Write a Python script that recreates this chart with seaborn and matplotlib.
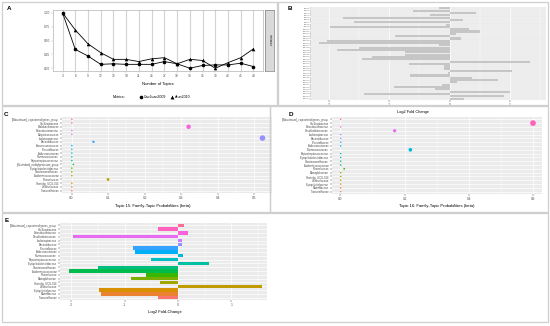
import matplotlib
matplotlib.use("Agg")
import numpy as np
import pandas as pd
import matplotlib.pyplot as plt
import seaborn as sns
from matplotlib.patches import Rectangle
from matplotlib.lines import Line2D

# ---------------- data ----------------
n_topics = [3, 6, 9, 12, 15, 18, 21, 24, 27, 30, 33, 36, 39, 42, 45, 48]
caojuan2009 = [1.00, 0.34, 0.22, 0.07, 0.08, 0.07, 0.07, 0.07, 0.12, 0.08, 0.00, 0.05, 0.06, 0.06, 0.09, 0.03]
arun2010 = [1.00, 0.69, 0.44, 0.28, 0.16, 0.16, 0.12, 0.17, 0.19, 0.08, 0.16, 0.14, 0.00, 0.10, 0.19, 0.35]

topic_fc = [-0.18, -0.61, 0.44, -0.33, -1.77, 0.23, -1.58, -0.06, -1.99, 0.33,
            0.51, 0.11, -0.90, 0.19, -2.04, -2.16, -0.17, -1.50, -1.87, -0.74,
            -0.74, -1.29, -1.46, 1.34, -0.67, -0.10, -0.10, 1.04, -0.03, -0.66,
            0.37, 0.81, 0.13, -0.13, -0.92, -0.24, 1.00, -1.42, 0.91, 0.24]
topic_names = ["Topic %d" % (i + 1) for i in range(len(topic_fc))]

families_c = ["[Eubacterium]_coprostanoligenes_group", "Oscillospiraceae", "Bifidobacteriaceae",
              "Enterobacteriaceae", "Butyricicoccaceae", "Lachnospiraceae", "Bacteroidaceae",
              "Anaerovoracaceae", "Prevotellaceae", "Akkermansiaceae", "Ruminococcaceae",
              "Peptostreptococcaceae", "[Clostridium]_methylpentosum_group",
              "Erysipelatoclostridiaceae", "Christensenellaceae", "Acidaminococcaceae",
              "Rikenellaceae", "Clostridia_UCG-014", "Veillonellaceae", "Tannerellaceae"]
beta_c = [0.001, 0.001, 0.32, 0.001, 0.001, 0.522, 0.06, 0.001, 0.001, 0.001,
          0.001, 0.001, 0.005, 0.001, 0.001, 0.001, 0.10, 0.001, 0.001, 0.001]

families_d = ["[Eubacterium]_coprostanoligenes_group", "Oscillospiraceae", "Enterobacteriaceae",
              "Desulfovibrionaceae", "Lachnospiraceae", "Bacteroidaceae", "Prevotellaceae",
              "Akkermansiaceae", "Ruminococcaceae", "Peptostreptococcaceae",
              "Erysipelatoclostridiaceae", "Christensenellaceae", "Acidaminococcaceae",
              "Rikenellaceae", "Monoglobaceae", "Clostridia_UCG-014", "Veillonellaceae",
              "Erysipelotrichaceae", "Marinifilaceae", "Tannerellaceae"]
beta_d = [0.001, 0.60, 0.001, 0.169, 0.001, 0.001, 0.001, 0.001, 0.218, 0.001,
          0.001, 0.001, 0.001, 0.012, 0.001, 0.001, 0.001, 0.001, 0.001, 0.001]

families_e = families_d
fc_e = [0.11, -0.37, 0.19, -1.97, 0.08, 0.08, -0.85, -0.80, 0.10, -0.51,
        0.59, -1.49, -2.05, -0.59, -0.88, -0.33, 1.58, -1.48, -1.44, -0.37]

# ggplot default hue palette, 20 levels (level 1 = bottom row)
hue20 = ["#F8766D", "#EA8331", "#D89000", "#C09B00", "#A3A500", "#7CAE00", "#39B600",
         "#00BB4E", "#00BF7D", "#00C1A3", "#00BFC4", "#00BAE0", "#00B0F6", "#35A2FF",
         "#9590FF", "#C77CFF", "#E76BF3", "#FA62DB", "#FF62BC", "#FF6C91"]

# ---------------- helpers ----------------
W, H = 550, 326
plt.rcParams['font.family'] = ['Liberation Sans', 'DejaVu Sans']
fig = plt.figure(figsize=(W / 100, H / 100), dpi=100)
fig.patch.set_facecolor('white')


def px_axes(left, top, right, bottom):
    return fig.add_axes([left / W, 1 - bottom / H, (right - left) / W, (bottom - top) / H])


def box(left, top, right, bottom):
    fig.patches.append(Rectangle((left / W, 1 - bottom / H), (right - left) / W, (bottom - top) / H,
                                 transform=fig.transFigure, fill=False, ec='#CFCFCF', lw=0.9))


def gg_gray(ax, fs=1.9):
    ax.set_facecolor('#EBEBEB')
    for s in ax.spines.values():
        s.set_visible(False)
    ax.grid(True, which='major', color='white', lw=0.5)
    ax.grid(True, which='minor', axis='x', color='white', lw=0.25)
    ax.set_axisbelow(True)
    ax.tick_params(axis='both', length=1.2, width=0.3, color='#333333', pad=1,
                   labelsize=fs, labelcolor='#4D4D4D')
    ax.tick_params(axis='x', labelsize=2.3)
    ax.tick_params(which='minor', length=0)
    ax.set_xlabel('')
    ax.set_ylabel('')


def letter(x, y, s):
    fig.text(x / W, 1 - y / H, s, fontsize=4.5, fontweight='bold', ha='left', va='center')


def flabel(x, y, s, fs=3.0):
    fig.text(x / W, 1 - y / H, s, fontsize=fs, ha='center', va='center', color='black')


box(2, 2, 277, 105)
box(278, 2, 548, 105)
box(2, 106, 270, 212)
box(270, 106, 548, 212)
box(2, 213, 548, 322)

# ---------------- A ----------------
dfa = pd.DataFrame({'k': n_topics * 2,
                    'value': caojuan2009 + arun2010,
                    'metric': ['CaoJuan2009'] * len(n_topics) + ['Arun2010'] * len(n_topics)})
axa = px_axes(53, 10, 263, 71)
sns.lineplot(data=dfa, x='k', y='value', style='metric',
             markers={'CaoJuan2009': 'o', 'Arun2010': '^'}, dashes=False,
             color='black', lw=0.6, markersize=2.6, markeredgewidth=0,
             legend=False, ax=axa)
axa.set_xlim(0.75, 50.25)
axa.set_ylim(-0.05, 1.05)
axa.set_xticks(n_topics)
axa.set_yticks([0, 0.25, 0.5, 0.75, 1.0])
axa.set_yticklabels(['0.00', '0.25', '0.50', '0.75', '1.00'])
axa.grid(True, axis='x', color='#D3D3D3', lw=0.8)
axa.grid(False, axis='y')
axa.set_axisbelow(True)
for s in axa.spines.values():
    s.set_color('#B3B3B3')
    s.set_linewidth(0.5)
axa.tick_params(length=1.2, width=0.3, color='#B3B3B3', pad=1, labelsize=2.3, labelcolor='#4D4D4D')
axa.set_xlabel('')
axa.set_ylabel('')

axs = px_axes(265, 10, 274, 71)
axs.set_facecolor('#D9D9D9')
axs.set_xticks([])
axs.set_yticks([])
for s in axs.spines.values():
    s.set_color('#7F7F7F')
    s.set_linewidth(0.5)
axs.text(0.5, 0.5, 'minimize', rotation=-90, ha='center', va='center', fontsize=2.2,
         color='#1A1A1A', transform=axs.transAxes)

flabel(158, 84, 'Number of Topics')
fig.text(113 / W, 1 - 97 / H, 'Metrics:', fontsize=2.6, ha='left', va='center')
handles = [Line2D([], [], ls='', marker='o', color='black', markersize=2.6, mew=0),
           Line2D([], [], ls='', marker='^', color='black', markersize=2.8, mew=0)]
fig.legend(handles, ['CaoJuan2009', 'Arun2010'], ncol=2, frameon=False, fontsize=2.6,
           loc='center left', bbox_to_anchor=(138 / W, 1 - 97 / H),
           handlelength=0.8, handletextpad=0.4, columnspacing=1.2, borderaxespad=0)
letter(7, 8, 'A')

# ---------------- B ----------------
axb = px_axes(311, 7, 546, 100)
sns.barplot(x=topic_fc, y=topic_names, orient='h', color='#C6C6C6', saturation=1,
            width=0.9, ax=axb)
gg_gray(axb, fs=1.45)
axb.set_xlim(-2.3, 1.6)
axb.set_ylim(len(topic_fc) - 0.4, -0.6)
axb.set_xticks([-2, -1, 0, 1])
axb.set_xticklabels(['-2', '-1', '0', '1'])
axb.set_xticks([-1.5, -0.5, 0.5, 1.5], minor=True)
axb.grid(True, axis='y', color='white', lw=0.2)
axb.tick_params(axis='y', length=0.8, pad=0.6)
letter(288, 8, 'B')
flabel(413, 112.5, 'Log2 Fold Change', fs=2.8)

# ---------------- C ----------------
dfc = pd.DataFrame({'family': families_c, 'beta': beta_c})
pal_c = {f: hue20[len(families_c) - 1 - i] for i, f in enumerate(families_c)}
axc = px_axes(62, 117, 272, 193)
sns.scatterplot(data=dfc, x='beta', y='family', hue='family', palette=pal_c,
                size='beta', sizes=(1.2, 16), linewidth=0, legend=False, ax=axc)
gg_gray(axc)
axc.set_xlim(-0.026, 0.548)
axc.set_ylim(len(families_c) - 0.4, -0.6)
axc.set_yticks(range(len(families_c)))
axc.set_yticklabels(families_c)
axc.set_xticks([0, 0.1, 0.2, 0.3, 0.4, 0.5])
axc.set_xticklabels(['0.0', '0.1', '0.2', '0.3', '0.4', '0.5'])
axc.set_xticks([0.05, 0.15, 0.25, 0.35, 0.45], minor=True)
letter(4, 115, 'C')
flabel(153, 206.5, 'Topic 15: Family-Topic Probabilities (beta)')

# ---------------- D ----------------
dfd = pd.DataFrame({'family': families_d, 'beta': beta_d})
pal_d = {f: hue20[len(families_d) - 1 - i] for i, f in enumerate(families_d)}
axd = px_axes(332, 117, 542, 194)
sns.scatterplot(data=dfd, x='beta', y='family', hue='family', palette=pal_d,
                size='beta', sizes=(1.2, 17), linewidth=0, legend=False, ax=axd)
gg_gray(axd)
axd.set_xlim(-0.026, 0.628)
axd.set_ylim(len(families_d) - 0.4, -0.6)
axd.set_yticks(range(len(families_d)))
axd.set_yticklabels(families_d)
axd.set_xticks([0, 0.2, 0.4, 0.6])
axd.set_xticklabels(['0.0', '0.2', '0.4', '0.6'])
axd.set_xticks([0.1, 0.3, 0.5], minor=True)
letter(289, 115, 'D')
flabel(437, 206.5, 'Topic 16: Family-Topic Probabilities (beta)')

# ---------------- E ----------------
pal_e = {f: hue20[len(families_e) - 1 - i] for i, f in enumerate(families_e)}
axe = px_axes(60, 223, 267, 300)
sns.barplot(x=fc_e, y=families_e, hue=families_e, palette=pal_e, orient='h',
            saturation=1, width=0.9, legend=False, ax=axe)
gg_gray(axe)
axe.set_xlim(-2.21, 1.67)
axe.set_ylim(len(families_e) - 0.4, -0.6)
axe.set_xticks([-2, -1, 0, 1])
axe.set_xticklabels(['-2', '-1', '0', '1'])
axe.set_xticks([-1.5, -0.5, 0.5, 1.5], minor=True)
letter(5, 220, 'E')
flabel(165, 312, 'Log2 Fold-Change')

fig.savefig('out.png', dpi=100)
